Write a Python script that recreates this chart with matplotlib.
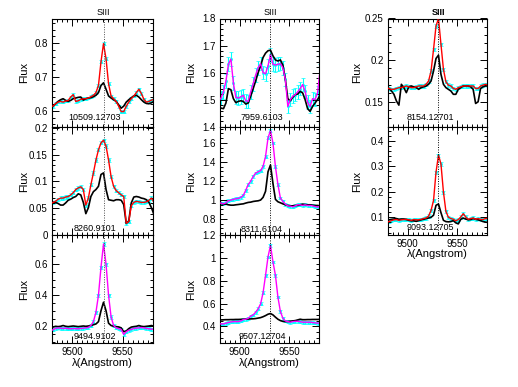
import numpy as np
import matplotlib
matplotlib.use('Agg')
import matplotlib.pyplot as plt
from matplotlib.ticker import MultipleLocator, AutoMinorLocator, FuncFormatter
import matplotlib.transforms as mtransforms

plt.rcParams['font.family'] = ['Liberation Sans', 'DejaVu Sans']

# wavelength grid (Angstrom)
wave = [9478.5, 9481.0, 9483.5, 9486.0, 9488.5, 9491.0, 9493.5, 9496.0, 9498.5, 9501.0,
        9503.5, 9506.0, 9508.5, 9511.0, 9513.5, 9516.0, 9518.5, 9521.0, 9523.5, 9526.0,
        9528.5, 9531.0, 9533.5, 9536.0, 9538.5, 9541.0, 9543.5, 9546.0, 9548.5, 9551.0,
        9553.5, 9556.0, 9558.5, 9561.0, 9563.5, 9566.0, 9568.5, 9571.0, 9573.5, 9576.0,
        9578.5, 9581.0]
line_center = 9531.0

# column 1
fit_10509 = [0.614, 0.614, 0.621, 0.626, 0.628, 0.626, 0.629, 0.631, 0.641, 0.648,
             0.628, 0.630, 0.634, 0.636, 0.636, 0.638, 0.642, 0.646, 0.654, 0.675,
             0.745, 0.799, 0.754, 0.680, 0.644, 0.636, 0.628, 0.614, 0.598, 0.598,
             0.614, 0.626, 0.636, 0.644, 0.654, 0.664, 0.651, 0.634, 0.626, 0.628,
             0.632, 0.634]
obs_10509 = [0.611, 0.614, 0.621, 0.628, 0.633, 0.636, 0.631, 0.628, 0.631, 0.636,
             0.638, 0.640, 0.641, 0.632, 0.636, 0.638, 0.639, 0.642, 0.646, 0.654,
             0.675, 0.683, 0.664, 0.644, 0.638, 0.633, 0.628, 0.618, 0.608, 0.614,
             0.626, 0.633, 0.639, 0.644, 0.646, 0.641, 0.633, 0.626, 0.622, 0.621,
             0.624, 0.628]
fit_8260 = [0.059, 0.061, 0.063, 0.067, 0.069, 0.069, 0.071, 0.072, 0.075, 0.079,
            0.085, 0.088, 0.090, 0.085, 0.056, 0.069, 0.094, 0.116, 0.140, 0.159,
            0.172, 0.177, 0.166, 0.140, 0.109, 0.091, 0.083, 0.079, 0.075, 0.072,
            0.022, 0.025, 0.055, 0.061, 0.063, 0.062, 0.061, 0.061, 0.062, 0.065,
            0.069, 0.061]
obs_8260 = [0.059, 0.061, 0.061, 0.059, 0.056, 0.056, 0.060, 0.065, 0.067, 0.070,
            0.072, 0.077, 0.075, 0.061, 0.040, 0.051, 0.072, 0.081, 0.085, 0.091,
            0.113, 0.116, 0.085, 0.066, 0.065, 0.064, 0.066, 0.066, 0.065, 0.057,
            0.022, 0.026, 0.060, 0.071, 0.072, 0.071, 0.069, 0.068, 0.066, 0.061,
            0.051, 0.038]
fit_9494 = [0.170, 0.178, 0.186, 0.190, 0.188, 0.186, 0.188, 0.185, 0.184, 0.186,
            0.185, 0.184, 0.186, 0.188, 0.190, 0.193, 0.205, 0.230, 0.290, 0.400,
            0.580, 0.730, 0.600, 0.400, 0.260, 0.205, 0.190, 0.185, 0.180, 0.148,
            0.165, 0.175, 0.180, 0.186, 0.188, 0.190, 0.192, 0.190, 0.186, 0.184,
            0.182, 0.180]
obs_9494 = [0.190, 0.195, 0.200, 0.198, 0.200, 0.205, 0.200, 0.198, 0.200, 0.202,
            0.200, 0.198, 0.200, 0.202, 0.200, 0.202, 0.205, 0.210, 0.215, 0.230,
            0.300, 0.355, 0.300, 0.220, 0.205, 0.200, 0.198, 0.196, 0.190, 0.165,
            0.170, 0.185, 0.195, 0.198, 0.200, 0.205, 0.200, 0.198, 0.200, 0.202,
            0.205, 0.200]

# column 2
fit_7959 = [1.494, 1.506, 1.529, 1.569, 1.631, 1.650, 1.562, 1.509, 1.506, 1.511,
            1.516, 1.496, 1.494, 1.529, 1.559, 1.591, 1.618, 1.633, 1.600, 1.596,
            1.625, 1.666, 1.631, 1.628, 1.631, 1.633, 1.618, 1.575, 1.475, 1.500,
            1.513, 1.519, 1.529, 1.541, 1.556, 1.531, 1.491, 1.475, 1.504, 1.500,
            1.525, 1.606]
obs_7959 = [1.478, 1.469, 1.467, 1.488, 1.541, 1.537, 1.504, 1.489, 1.494, 1.496,
            1.494, 1.484, 1.488, 1.513, 1.541, 1.569, 1.600, 1.625, 1.656, 1.672,
            1.681, 1.683, 1.662, 1.647, 1.643, 1.647, 1.628, 1.575, 1.504, 1.496,
            1.509, 1.519, 1.521, 1.531, 1.525, 1.500, 1.467, 1.457, 1.475, 1.488,
            1.500, 1.516]
fit_8311 = [0.970, 0.967, 0.959, 0.970, 0.991, 0.999, 1.006, 1.013, 1.016, 1.027,
            1.048, 1.102, 1.162, 1.198, 1.247, 1.283, 1.297, 1.308, 1.354, 1.457,
            1.653, 1.731, 1.599, 1.351, 1.162, 1.020, 0.984, 0.956, 0.938, 0.935,
            0.927, 0.938, 0.949, 0.949, 0.942, 0.949, 0.942, 0.942, 0.938, 0.931,
            0.924, 0.935]
obs_8311 = [0.970, 0.963, 0.956, 0.956, 0.949, 0.945, 0.945, 0.949, 0.952, 0.956,
            0.959, 0.967, 0.974, 0.977, 0.984, 0.988, 0.991, 0.999, 1.027, 1.091,
            1.297, 1.368, 1.173, 1.006, 0.981, 0.970, 0.959, 0.949, 0.942, 0.938,
            0.938, 0.942, 0.942, 0.949, 0.956, 0.952, 0.949, 0.949, 0.945, 0.942,
            0.942, 0.938]
fit_9507 = [0.421, 0.421, 0.421, 0.427, 0.433, 0.438, 0.441, 0.441, 0.441, 0.447,
            0.459, 0.462, 0.471, 0.489, 0.500, 0.524, 0.553, 0.597, 0.694, 0.847,
            1.009, 1.110, 0.965, 0.847, 0.656, 0.530, 0.471, 0.447, 0.441, 0.436,
            0.441, 0.444, 0.444, 0.441, 0.436, 0.436, 0.436, 0.436, 0.433, 0.430,
            0.427, 0.430]
obs_9507 = [0.456, 0.456, 0.457, 0.458, 0.458, 0.459, 0.459, 0.460, 0.460, 0.461,
            0.462, 0.463, 0.464, 0.465, 0.466, 0.468, 0.472, 0.476, 0.484, 0.494,
            0.506, 0.512, 0.500, 0.480, 0.462, 0.450, 0.443, 0.441, 0.442, 0.445,
            0.447, 0.450, 0.456, 0.462, 0.458, 0.458, 0.459, 0.459, 0.460, 0.460,
            0.460, 0.461]

# column 3
fit_8154 = [0.167, 0.166, 0.165, 0.165, 0.166, 0.167, 0.167, 0.168, 0.169, 0.168,
            0.167, 0.167, 0.168, 0.169, 0.169, 0.169, 0.171, 0.175, 0.187, 0.213,
            0.241, 0.250, 0.219, 0.189, 0.174, 0.170, 0.169, 0.166, 0.165, 0.167,
            0.168, 0.169, 0.169, 0.169, 0.169, 0.169, 0.166, 0.166, 0.169, 0.170,
            0.171, 0.170]
obs_8154 = [0.167, 0.166, 0.163, 0.159, 0.151, 0.146, 0.171, 0.167, 0.161, 0.168,
            0.169, 0.168, 0.167, 0.165, 0.167, 0.168, 0.169, 0.171, 0.175, 0.187,
            0.202, 0.206, 0.183, 0.171, 0.167, 0.165, 0.163, 0.159, 0.159, 0.165,
            0.167, 0.169, 0.169, 0.169, 0.168, 0.165, 0.148, 0.150, 0.166, 0.168,
            0.169, 0.169]
fit_9093 = [0.082, 0.083, 0.087, 0.090, 0.091, 0.088, 0.090, 0.091, 0.092, 0.090,
            0.088, 0.091, 0.090, 0.090, 0.092, 0.095, 0.097, 0.105, 0.127, 0.166,
            0.277, 0.344, 0.309, 0.199, 0.123, 0.100, 0.095, 0.092, 0.086, 0.091,
            0.101, 0.114, 0.101, 0.092, 0.095, 0.097, 0.092, 0.095, 0.092, 0.091,
            0.095, 0.095]
obs_9093 = [0.088, 0.090, 0.092, 0.093, 0.095, 0.092, 0.093, 0.093, 0.091, 0.088,
            0.086, 0.086, 0.084, 0.087, 0.090, 0.092, 0.095, 0.097, 0.100, 0.108,
            0.147, 0.152, 0.118, 0.088, 0.083, 0.082, 0.083, 0.087, 0.078, 0.074,
            0.092, 0.097, 0.093, 0.090, 0.091, 0.095, 0.092, 0.090, 0.087, 0.083,
            0.081, 0.080]

labels = ['10509.12703', '8260.9101', '9494.9102',
          '7959.6103', '8311.6104', '9507.12704',
          '8154.12701', '9093.12705']
errors = [0.004, 0.003, 0.010, 0.025, 0.015, 0.012, 0.002, 0.006]

# (col, row, fit, obs, fit colour, ylim, major step, label y)
panels = [
    (0, 0, fit_10509, obs_10509, 'red', (0.553, 0.873), 0.1, 0.09),
    (0, 1, fit_8260, obs_8260, 'red', (0.0, 0.202), 0.05, 0.06),
    (0, 2, fit_9494, obs_9494, 'magenta', (0.09, 0.787), 0.2, 0.067),
    (1, 0, fit_7959, obs_7959, 'magenta', (1.4, 1.8), 0.1, 0.09),
    (1, 1, fit_8311, obs_8311, 'magenta', (0.63, 1.77), 0.2, 0.05),
    (1, 2, fit_9507, obs_9507, 'magenta', (0.25, 1.2), 0.2, 0.067),
    (2, 0, fit_8154, obs_8154, 'red', (0.12, 0.25), 0.05, 0.09),
    (2, 1, fit_9093, obs_9093, 'red', (0.03, 0.455), 0.1, 0.068),
]

fig = plt.figure(figsize=(5.18, 3.87), dpi=100)
W, H = 518.0, 387.0
col_left = [52, 220, 388]
col_width = [101, 99, 99]
label_x = [-0.228, -0.245, -0.263]
row_h = 108.3
top0 = 18.5
last_row = [2, 2, 1]

fmt = FuncFormatter(lambda v, p: '%g' % round(v, 6))

for i, (col, row, fit, obs, c, ylim, step, ly) in enumerate(panels):
    bottom = H - (top0 + row_h * (row + 1))
    ax = fig.add_axes([col_left[col] / W, bottom / H, col_width[col] / W, row_h / H])
    ax.errorbar(wave, fit, yerr=errors[i], fmt='o', ms=1.6, color='cyan',
                ecolor='cyan', elinewidth=0.8, capsize=1.2, mew=0.5, zorder=1)
    ax.plot(wave, obs, color='black', lw=1.2, zorder=2)
    ax.plot(wave, fit, color=c, lw=1.0, zorder=3)
    ax.axvline(line_center, color='0.3' if col == 0 else 'black',
               ls=(0, (1, 1.5)), lw=0.7, zorder=4)

    ax.set_xlim(9480, 9580)
    ax.set_ylim(*ylim)
    ax.xaxis.set_major_locator(MultipleLocator(50))
    ax.xaxis.set_minor_locator(MultipleLocator(5))
    ax.yaxis.set_major_locator(MultipleLocator(step))
    ax.yaxis.set_minor_locator(AutoMinorLocator())
    ax.yaxis.set_major_formatter(fmt)
    ax.tick_params(which='both', direction='in', top=True, right=True,
                   labelsize=7, width=0.7)
    ax.tick_params(axis='y', pad=3)
    ax.tick_params(axis='x', pad=2.5)
    ax.tick_params(which='major', length=5)
    ax.tick_params(which='minor', length=2.5)
    for s in ax.spines.values():
        s.set_linewidth(0.8)

    ax.set_ylabel('Flux', fontsize=8)
    ax.yaxis.set_label_coords(label_x[col], 0.5)

    if row == last_row[col]:
        ax.set_xlabel('λ(Angstrom)', fontsize=8, labelpad=0.5)
    else:
        ax.tick_params(labelbottom=False)

    if row == 0:
        trans = mtransforms.blended_transform_factory(ax.transData, ax.transAxes)
        ax.text(line_center, 1.018, 'SIII', transform=trans, ha='center',
                va='bottom', fontsize=6.5,
                fontweight='bold' if col == 2 else 'normal')

    ax.text(0.425, ly, labels[i], transform=ax.transAxes, ha='center',
            va='center', fontsize=6.5, zorder=5)

fig.savefig('out.png', dpi=100)
